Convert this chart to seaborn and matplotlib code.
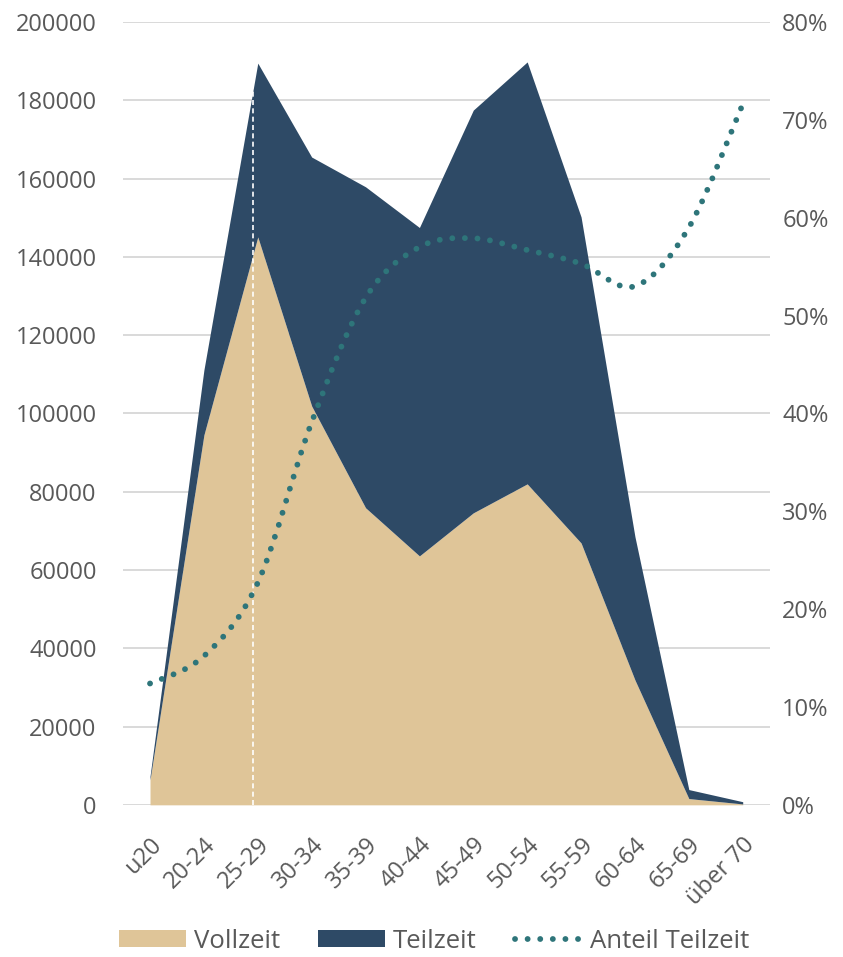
import numpy as np
import pandas as pd
import matplotlib
matplotlib.use("Agg")
import matplotlib.pyplot as plt
from matplotlib.path import Path
from matplotlib.patches import PathPatch, Patch
from matplotlib.lines import Line2D
import matplotlib.ticker as mticker
import matplotlib.transforms as mtransforms
import seaborn as sns

# ---- data ----
categories = ["u20", "20-24", "25-29", "30-34", "35-39", "40-44",
              "45-49", "50-54", "55-59", "60-64", "65-69", "über 70"]
vollzeit = [6400, 94500, 145100, 101900, 75900, 63600,
            74600, 82000, 66900, 31900, 1600, 230]
teilzeit = [900, 16600, 44400, 63600, 82000, 83900,
            102900, 107800, 83300, 36600, 2300, 570]
anteil_teilzeit = [12.4, 15.2, 22.7, 39.1, 51.8, 57.0,
                   57.9, 56.7, 55.3, 53.0, 59.0, 71.6]  # percent
left_ticks = [0, 20000, 40000, 60000, 80000, 100000, 120000, 140000, 160000, 180000, 200000]
right_ticks = [0, 10, 20, 30, 40, 50, 60, 70, 80]

df = pd.DataFrame({"Altersgruppe": categories, "Vollzeit": vollzeit,
                   "Teilzeit": teilzeit, "Anteil": anteil_teilzeit})

# ---- style ----
C_VZ = "#DFC598"
C_TZ = "#2E4A66"
C_LINE = "#2E757A"
C_TEXT = "#595959"
C_GRID = "#D9D9D9"
FS = 17
DOT_LW = 4.2
DOT_STYLE = (0, (0.01, 2.15))

sns.set_theme(style="whitegrid")
plt.rcParams["font.family"] = ["Open Sans", "DejaVu Sans"]

fig = plt.figure(figsize=(8.43, 9.57), dpi=100)
ax = fig.add_axes([0.146, 0.159, 0.767, 0.818])
x = np.arange(len(df))

ax.stackplot(x, df["Vollzeit"], df["Teilzeit"], colors=[C_VZ, C_TZ],
             linewidth=0, zorder=2)
ax.set_xlim(-0.5, len(df) - 0.5)
ax.set_ylim(0, 200000)
ax.set_yticks(left_ticks)
ax.yaxis.set_major_formatter(mticker.FuncFormatter(lambda v, p: f"{int(v)}"))
ax.set_xticks(x)
ax.set_xticklabels(df["Altersgruppe"], rotation=45, ha="right", va="top",
                   rotation_mode="anchor")
shift = mtransforms.ScaledTranslation(-5 / 100, 0, fig.dpi_scale_trans)
for lab in ax.get_xticklabels():
    lab.set_transform(lab.get_transform() + shift)
ax.grid(axis="y", color=C_GRID, linewidth=1.4, zorder=0)
ax.grid(axis="x", visible=False)
ax.set_axisbelow(True)
ax.tick_params(axis="y", length=0, pad=19, labelsize=FS, labelcolor=C_TEXT)
ax.tick_params(axis="x", length=0, pad=20, labelsize=FS, labelcolor=C_TEXT)
ax.set_xlabel("")
ax.set_ylabel("")
sns.despine(ax=ax, left=True, bottom=True, right=True, top=True)

# dashed marker line at 25-29
ax.axvline(2 - 0.08, ymin=0, ymax=0.95, color="white", linewidth=1.2,
           linestyle=(0, (3, 2)), zorder=3)

# ---- right axis: smoothed dotted share line ----
ax2 = ax.twinx()
ax2.set_ylim(0, 80)
ax2.set_yticks(right_ticks)
ax2.yaxis.set_major_formatter(mticker.FuncFormatter(lambda v, p: f"{int(v)}%"))
ax2.tick_params(axis="y", length=0, pad=9, labelsize=FS, labelcolor=C_TEXT)
ax2.grid(False)
sns.despine(ax=ax2, left=True, bottom=True, right=True, top=True)

# Excel-like smoothed curve: cubic Bezier segments through the data points
pts = np.column_stack([x, df["Anteil"].to_numpy(dtype=float)])
verts = [tuple(pts[0])]
codes = [Path.MOVETO]
n = len(pts)
for i in range(n - 1):
    p0 = pts[i - 1] if i > 0 else pts[i]
    p1 = pts[i]
    p2 = pts[i + 1]
    p3 = pts[i + 2] if i + 2 < n else pts[i + 1]
    c1 = p1 + (p2 - p0) / 6.0
    c2 = p2 - (p3 - p1) / 6.0
    verts += [tuple(c1), tuple(c2), tuple(p2)]
    codes += [Path.CURVE4] * 3
patch = PathPatch(Path(verts, codes), facecolor="none", edgecolor=C_LINE,
                  linewidth=DOT_LW, linestyle=DOT_STYLE,
                  capstyle="round", zorder=4)
ax2.add_patch(patch)

# ---- legend ----
handles = [Patch(facecolor=C_VZ, edgecolor="none", label="Vollzeit"),
           Patch(facecolor=C_TZ, edgecolor="none", label="Teilzeit"),
           Line2D([0], [0], color=C_LINE, linewidth=DOT_LW,
                  linestyle=DOT_STYLE, dash_capstyle="round",
                  label="Anteil Teilzeit")]
leg = fig.legend(handles=handles, loc="center", ncol=3,
                 bbox_to_anchor=(0.515, 0.0165), frameon=False, fontsize=18.5,
                 handlelength=2.6, handleheight=0.6, handletextpad=0.3,
                 columnspacing=1.5, labelcolor=C_TEXT, borderpad=0)

fig.savefig("out.png", dpi=100)
